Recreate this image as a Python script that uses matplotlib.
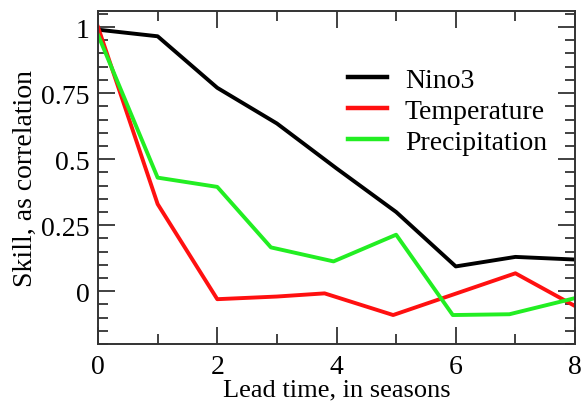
import matplotlib.pyplot as plt
from matplotlib.ticker import MultipleLocator

# values
nino3_x = [0, 1, 2, 3, 4, 5, 6, 7, 8]
nino3_y = [0.99, 0.965, 0.77, 0.635, 0.465, 0.30, 0.094, 0.13, 0.12]

temp_x = [0, 1, 2, 3, 3.8, 4.95, 7, 8]
temp_y = [1.0, 0.33, -0.03, -0.02, -0.008, -0.09, 0.068, -0.056]

precip_x = [0, 1, 2, 2.9, 3.95, 5, 5.95, 6.9, 8]
precip_y = [0.97, 0.43, 0.395, 0.166, 0.113, 0.214, -0.09, -0.087, -0.026]

x_ticks = [0, 2, 4, 6, 8]
y_ticks = [0, 0.25, 0.5, 0.75, 1]
y_tick_labels = ["0", "0.25", "0.5", "0.75", "1"]

plt.rcParams["font.family"] = ["Liberation Serif", "DejaVu Serif"]

fig = plt.figure(figsize=(5.81, 4.06), dpi=100)
ax = fig.add_axes([0.1687, 0.150, 0.821, 0.820])

ax.plot(nino3_x, nino3_y, color="black", lw=2.8, label="Nino3")
ax.plot(temp_x, temp_y, color="#ff1010", lw=2.8, label="Temperature")
ax.plot(precip_x, precip_y, color="#22ee22", lw=2.8, label="Precipitation")

ax.set_xlim(0, 8)
ax.set_ylim(-0.2, 1.06)
ax.set_xticks(x_ticks)
ax.set_yticks(y_ticks)
ax.set_yticklabels(y_tick_labels)
ax.xaxis.set_minor_locator(MultipleLocator(1))
ax.yaxis.set_minor_locator(MultipleLocator(0.05))

ax.tick_params(which="both", direction="in", top=True, right=True,
               width=1.3, color="#333333", labelsize=20)
ax.tick_params(which="major", length=12, pad=6)
ax.tick_params(axis="x", which="major", pad=7)
ax.tick_params(which="minor", length=7)
for sp in ax.spines.values():
    sp.set_linewidth(1.4)
    sp.set_color("#333333")

ax.set_xlabel("Lead time, in seasons", fontsize=19, labelpad=0)
ax.set_ylabel("Skill, as correlation", fontsize=20, labelpad=2)

leg = ax.legend(loc="upper left", bbox_to_anchor=(0.524, 0.83), frameon=False,
                fontsize=20, handlelength=1.4, handletextpad=0.65,
                labelspacing=0.2, borderaxespad=0, borderpad=0)
for ln in leg.get_lines():
    ln.set_linewidth(3.2)

fig.savefig("out.png", dpi=100)
